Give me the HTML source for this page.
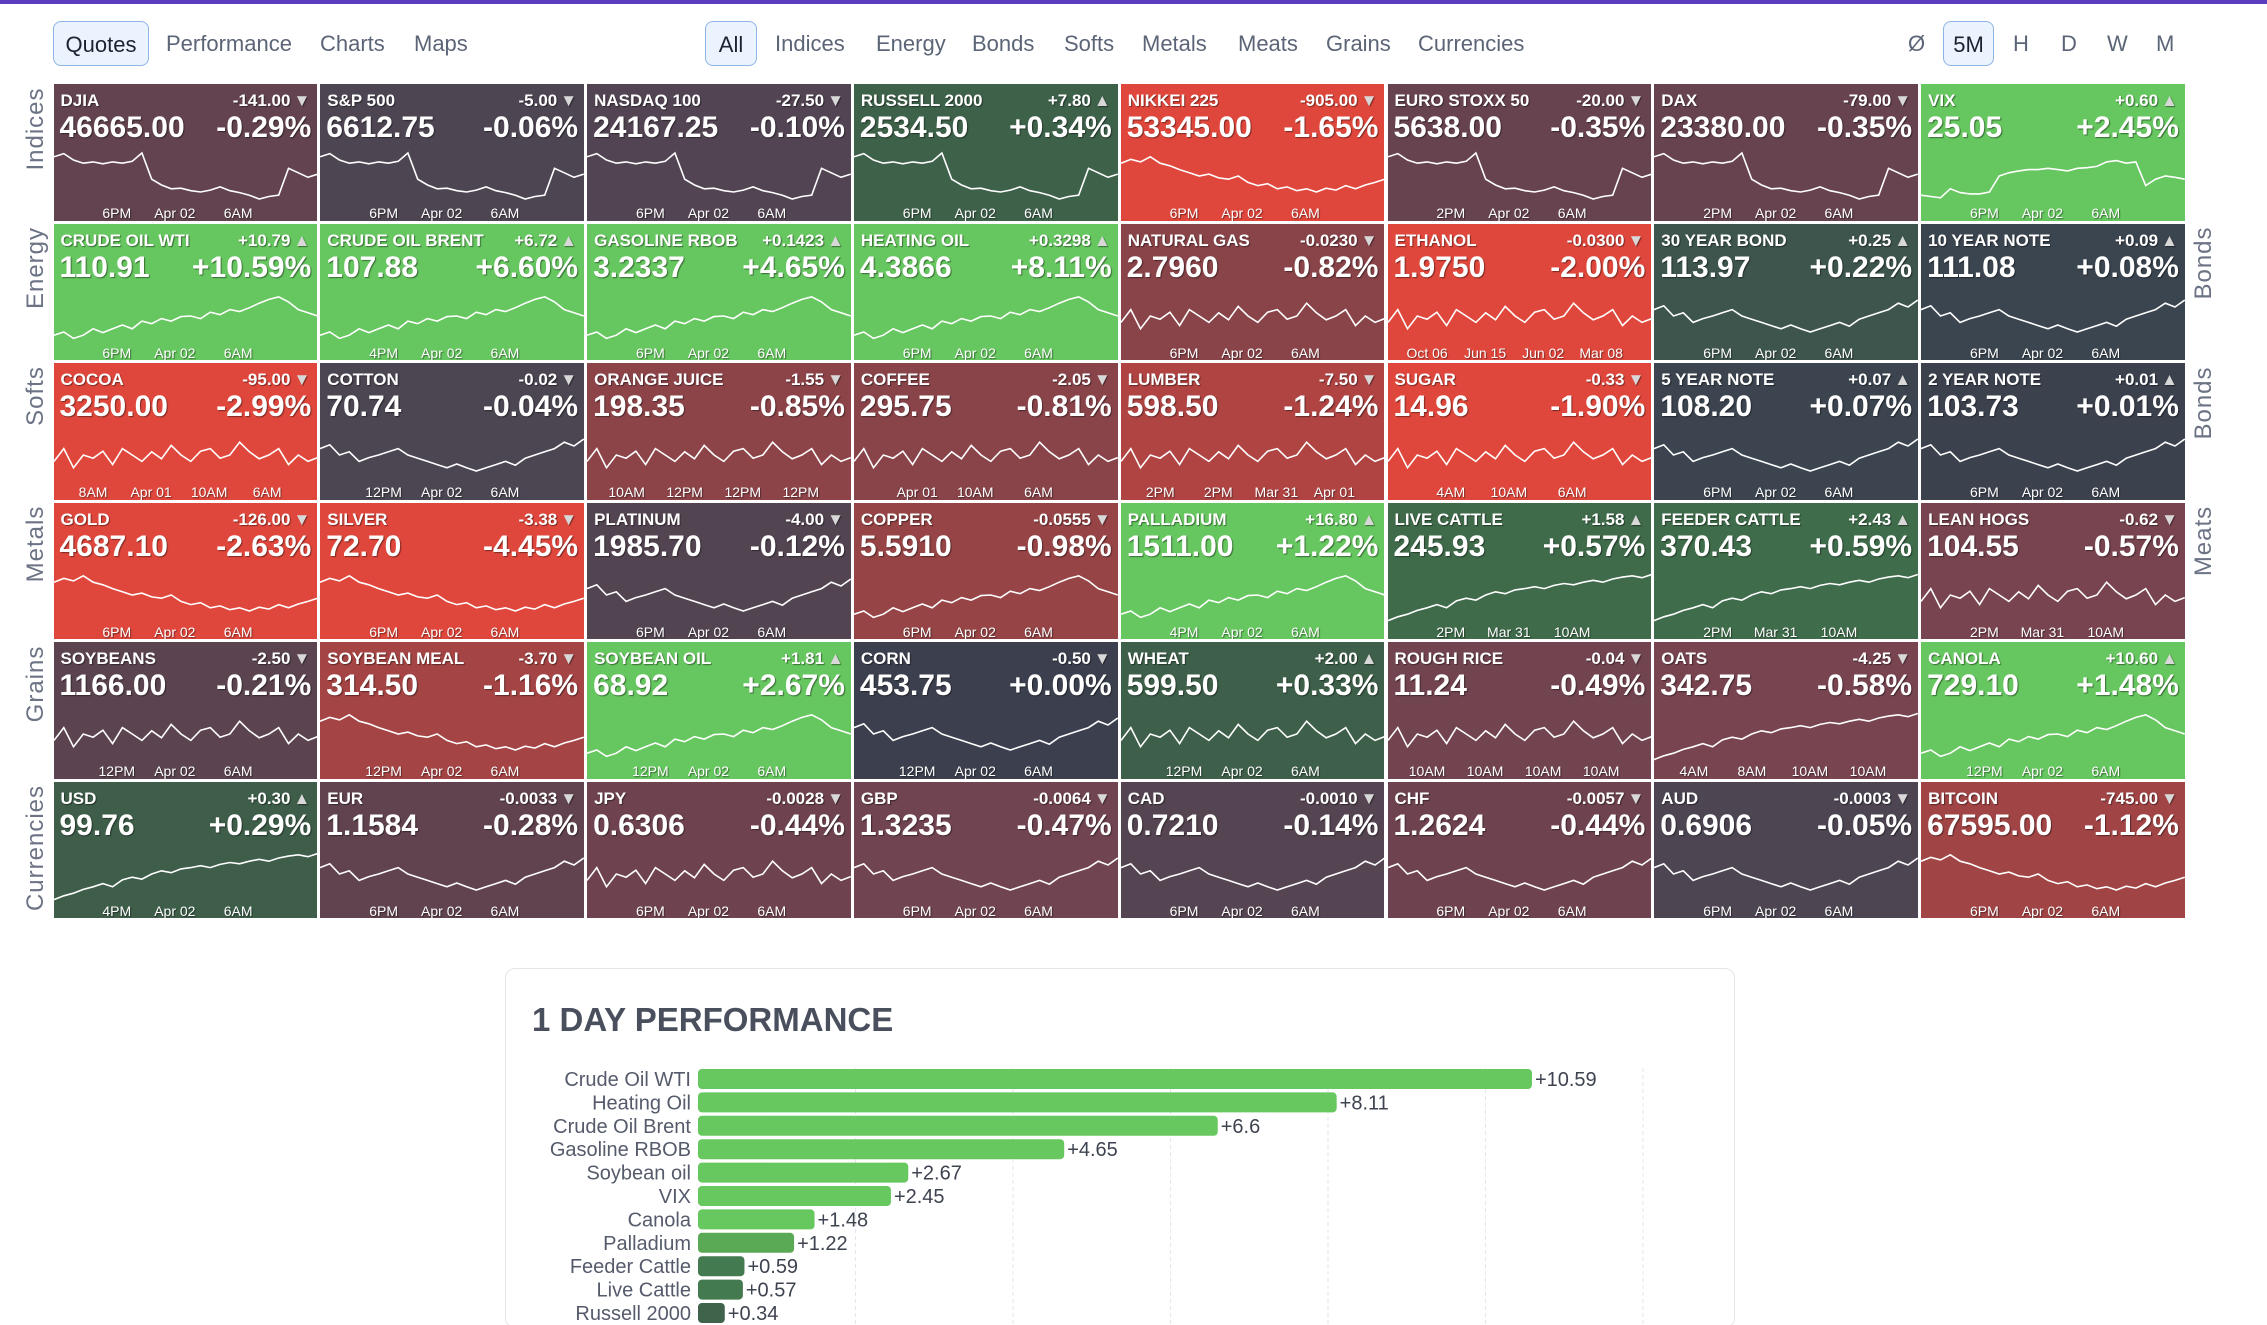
<!DOCTYPE html>
<html><head><meta charset="utf-8"><style>
*{box-sizing:border-box;margin:0;padding:0}
html{width:2267px;height:1325px;overflow:hidden}
body{width:2267px;height:1325px;background:#fff;position:relative;overflow:hidden;font-family:"Liberation Sans Narrow","Liberation Sans",sans-serif}
.topbar{position:absolute;left:0;top:0;width:2267px;height:4px;background:#5b3cbf}
.nav{position:absolute;top:21px;height:45px;line-height:45px;font-size:22px;color:#5c6577;font-family:"Liberation Sans",sans-serif}
.btn{background:#ebf3ff;border:1.5px solid #8fb4e8;border-radius:8px;color:#1d2230;text-align:center}
.tile{position:absolute;overflow:hidden;color:#fff;text-shadow:1px 1px 1px rgba(0,0,0,.45)}
.tile .nm{position:absolute;left:7px;top:7px;font-size:17px;font-weight:bold;font-family:"Liberation Sans",sans-serif}
.tile .ch{position:absolute;right:7px;top:7px;font-size:17px;font-weight:bold;font-family:"Liberation Sans",sans-serif}
.tile .ch span{color:#d8d8d8;font-size:17px;margin-left:3px}
.tile .px{position:absolute;left:6px;top:27px;font-size:30px;font-weight:bold;font-family:"Liberation Sans",sans-serif}
.tile .pc{position:absolute;right:6px;top:27px;font-size:30px;font-weight:bold;font-family:"Liberation Sans",sans-serif}
.tile svg{position:absolute;left:0;top:0}
.tl{position:absolute;top:121px;font-size:14px;transform:translateX(-50%);white-space:nowrap;font-family:"Liberation Sans",sans-serif}
.rowlab{position:absolute;font-size:24px;letter-spacing:1px;color:#6b7385;font-family:"Liberation Sans",sans-serif;white-space:nowrap}
.panel{position:absolute;left:505px;top:968px;width:1230px;height:360px;border:1.5px solid #e3e5ea;border-radius:10px}
</style></head><body>
<div class="topbar"></div>

<div class="nav btn" style="left:53px;width:96px">Quotes</div>
<div class="nav" style="left:166px">Performance</div>
<div class="nav" style="left:320px">Charts</div>
<div class="nav" style="left:414px">Maps</div>

<div class="nav btn" style="left:705px;width:52px">All</div>
<div class="nav" style="left:775px">Indices</div>
<div class="nav" style="left:876px">Energy</div>
<div class="nav" style="left:972px">Bonds</div>
<div class="nav" style="left:1064px">Softs</div>
<div class="nav" style="left:1142px">Metals</div>
<div class="nav" style="left:1238px">Meats</div>
<div class="nav" style="left:1326px">Grains</div>
<div class="nav" style="left:1418px">Currencies</div>

<div class="nav" style="left:1908px">Ø</div>
<div class="nav btn" style="left:1943px;width:51px">5M</div>
<div class="nav" style="left:2013px">H</div>
<div class="nav" style="left:2061px">D</div>
<div class="nav" style="left:2107px">W</div>
<div class="nav" style="left:2156px">M</div>

<div id="grid"></div>

<div class="panel">
<div style="position:absolute;left:26px;top:32px;font-size:33px;font-weight:bold;color:#4a4f5e;font-family:'Liberation Sans',sans-serif">1 DAY PERFORMANCE</div>
</div>
<svg id="bars" width="2267" height="1325" style="position:absolute;left:0;top:0"></svg>

<script>
// ---- bar chart data ----
const barLabels=["Crude Oil WTI","Heating Oil","Crude Oil Brent","Gasoline RBOB","Soybean oil","VIX","Canola","Palladium","Feeder Cattle","Live Cattle","Russell 2000"];
const barValues=[10.59,8.11,6.6,4.65,2.67,2.45,1.48,1.22,0.59,0.57,0.34];
const barTicks=[0,2,4,6,8,10,12];

// ---- quote tiles data ----
const names=["DJIA","S&P 500","NASDAQ 100","RUSSELL 2000","NIKKEI 225","EURO STOXX 50","DAX","VIX",
"CRUDE OIL WTI","CRUDE OIL BRENT","GASOLINE RBOB","HEATING OIL","NATURAL GAS","ETHANOL","30 YEAR BOND","10 YEAR NOTE",
"COCOA","COTTON","ORANGE JUICE","COFFEE","LUMBER","SUGAR","5 YEAR NOTE","2 YEAR NOTE",
"GOLD","SILVER","PLATINUM","COPPER","PALLADIUM","LIVE CATTLE","FEEDER CATTLE","LEAN HOGS",
"SOYBEANS","SOYBEAN MEAL","SOYBEAN OIL","CORN","WHEAT","ROUGH RICE","OATS","CANOLA",
"USD","EUR","JPY","GBP","CAD","CHF","AUD","BITCOIN"];
const changes=["-141.00","-5.00","-27.50","+7.80","-905.00","-20.00","-79.00","+0.60",
"+10.79","+6.72","+0.1423","+0.3298","-0.0230","-0.0300","+0.25","+0.09",
"-95.00","-0.02","-1.55","-2.05","-7.50","-0.33","+0.07","+0.01",
"-126.00","-3.38","-4.00","-0.0555","+16.80","+1.58","+2.43","-0.62",
"-2.50","-3.70","+1.81","-0.50","+2.00","-0.04","-4.25","+10.60",
"+0.30","-0.0033","-0.0028","-0.0064","-0.0010","-0.0057","-0.0003","-745.00"];
const prices=["46665.00","6612.75","24167.25","2534.50","53345.00","5638.00","23380.00","25.05",
"110.91","107.88","3.2337","4.3866","2.7960","1.9750","113.97","111.08",
"3250.00","70.74","198.35","295.75","598.50","14.96","108.20","103.73",
"4687.10","72.70","1985.70","5.5910","1511.00","245.93","370.43","104.55",
"1166.00","314.50","68.92","453.75","599.50","11.24","342.75","729.10",
"99.76","1.1584","0.6306","1.3235","0.7210","1.2624","0.6906","67595.00"];
const pcts=[-0.29,-0.06,-0.10,0.34,-1.65,-0.35,-0.35,2.45,
10.59,6.60,4.65,8.11,-0.82,-2.00,0.22,0.08,
-2.99,-0.04,-0.85,-0.81,-1.24,-1.90,0.07,0.01,
-2.63,-4.45,-0.12,-0.98,1.22,0.57,0.59,-0.57,
-0.21,-1.16,2.67,0.00,0.33,-0.49,-0.58,1.48,
0.29,-0.28,-0.44,-0.47,-0.14,-0.44,-0.05,-1.12];
const L1=["6PM","Apr 02","6AM"];
const timeLabels=[L1,L1,L1,L1,L1,["2PM","Apr 02","6AM"],["2PM","Apr 02","6AM"],L1,
L1,["4PM","Apr 02","6AM"],L1,L1,L1,["Oct 06","Jun 15","Jun 02","Mar 08"],L1,L1,
["8AM","Apr 01","10AM","6AM"],["12PM","Apr 02","6AM"],["10AM","12PM","12PM","12PM"],["Apr 01","10AM","6AM"],["2PM","2PM","Mar 31","Apr 01"],["4AM","10AM","6AM"],L1,L1,
L1,L1,L1,L1,["4PM","Apr 02","6AM"],["2PM","Mar 31","10AM"],["2PM","Mar 31","10AM"],["2PM","Mar 31","10AM"],
["12PM","Apr 02","6AM"],["12PM","Apr 02","6AM"],["12PM","Apr 02","6AM"],["12PM","Apr 02","6AM"],["12PM","Apr 02","6AM"],["10AM","10AM","10AM","10AM"],["4AM","8AM","10AM","10AM"],["12PM","Apr 02","6AM"],
["4PM","Apr 02","6AM"],L1,L1,L1,L1,L1,L1,L1];
const shapeUS=[0.8,0.85,0.75,0.7,0.72,0.69,0.72,0.7,0.73,0.86,0.45,0.36,0.3,0.31,0.27,0.25,0.28,0.33,0.27,0.24,0.2,0.14,0.18,0.2,0.62,0.55,0.48,0.53];
const shapeUp=[0.2,0.25,0.15,0.2,0.3,0.24,0.3,0.36,0.3,0.42,0.38,0.46,0.42,0.49,0.5,0.46,0.56,0.52,0.6,0.57,0.63,0.7,0.76,0.8,0.72,0.6,0.55,0.5];
const shapeDown=[0.7,0.76,0.72,0.8,0.7,0.66,0.6,0.55,0.5,0.53,0.47,0.45,0.5,0.4,0.35,0.38,0.3,0.33,0.27,0.3,0.25,0.31,0.28,0.35,0.3,0.36,0.4,0.45];
const shapeNoisy=[0.4,0.6,0.3,0.5,0.45,0.56,0.35,0.6,0.5,0.4,0.55,0.44,0.65,0.5,0.4,0.56,0.6,0.45,0.5,0.7,0.55,0.44,0.5,0.6,0.35,0.5,0.4,0.46];
const shapeRise=[0.1,0.16,0.2,0.26,0.3,0.35,0.3,0.41,0.45,0.42,0.5,0.55,0.52,0.58,0.6,0.63,0.6,0.65,0.68,0.66,0.7,0.73,0.7,0.75,0.78,0.8,0.77,0.82];
const shapeDip=[0.6,0.66,0.5,0.55,0.4,0.46,0.5,0.55,0.6,0.5,0.45,0.4,0.35,0.3,0.36,0.3,0.25,0.3,0.35,0.4,0.34,0.45,0.5,0.55,0.6,0.7,0.64,0.75];
const shapeVix=[0.2,0.18,0.16,0.3,0.24,0.22,0.22,0.25,0.5,0.55,0.58,0.6,0.6,0.62,0.6,0.58,0.62,0.63,0.65,0.72,0.74,0.7,0.72,0.35,0.45,0.5,0.48,0.45];
const shapes=[shapeUS,shapeUS,shapeUS,shapeUS,shapeDown,shapeUS,shapeUS,shapeVix,
shapeUp,shapeUp,shapeUp,shapeUp,shapeNoisy,shapeNoisy,shapeDip,shapeDip,
shapeNoisy,shapeDip,shapeNoisy,shapeNoisy,shapeNoisy,shapeNoisy,shapeDip,shapeDip,
shapeDown,shapeDown,shapeDip,shapeUp,shapeUp,shapeRise,shapeRise,shapeNoisy,
shapeNoisy,shapeDown,shapeUp,shapeDip,shapeNoisy,shapeNoisy,shapeRise,shapeUp,
shapeRise,shapeDip,shapeNoisy,shapeDip,shapeDip,shapeDip,shapeDip,shapeDown];
const rowNames=["Indices","Energy","Softs","Metals","Grains","Currencies"];
const rightNames=["","Bonds","Bonds","Meats","",""];

function mix(a,b,t){const pa=parseInt(a.slice(1),16),pb=parseInt(b.slice(1),16);
 const c=[16,8,0].map(s=>Math.round(((pa>>s)&255)*(1-t)+((pb>>s)&255)*t));
 return "rgb("+c.join(",")+")";}
function tileColor(p){
 const neg=[[0,"#494553"],[0.3,"#63434f"],[0.6,"#7a4450"],[0.9,"#8f4447"],[1.2,"#a84444"],[1.5,"#e0473c"]];
 const pos=[[0,"#3c404e"],[0.1,"#3b4650"],[0.3,"#3e5f4a"],[0.6,"#3f6c4a"],[1.0,"#66c65f"]];
 const st=p<0?neg:pos;const a=Math.abs(p);
 if(a>=st[st.length-1][0])return st[st.length-1][1];
 for(let i=1;i<st.length;i++){if(a<=st[i][0]){const t=(a-st[i-1][0])/(st[i][0]-st[i-1][0]);return mix(st[i-1][1],st[i][1],t);}}
}
const grid=document.getElementById('grid');
const gx=53.5,gy=84,cw=266.8,rh=139.5,gap=3;
const tw=cw-gap,th=rh-gap;
names.forEach((n,i)=>{
 const c=i%8,r=Math.floor(i/8);
 const d=document.createElement('div');d.className='tile';
 
 
 d.style.left=(gx+c*cw)+'px';d.style.top=(gy+r*rh)+'px';d.style.width=tw+'px';d.style.height=th+'px';
 d.style.background=tileColor(pcts[i]);
 const s=shapes[i];const y0=60,y1=124;
 const pts=s.map((v,k)=>((k/(s.length-1))*tw).toFixed(1)+","+(y1-v*(y1-y0)).toFixed(1)).join(" ");
 const tri=changes[i][0]==='-'?'▼':'▲';
 const pcStr=(pcts[i]>=0?'+':'')+pcts[i].toFixed(2)+'%';
 let labs='';const tl=timeLabels[i];
 tl.forEach((t,k)=>{const f=tl.length===3?[0.24,0.46,0.7][k]:[0.15,0.37,0.59,0.81][k];labs+='<div class="tl" style="left:'+(f*tw)+'px">'+t+'</div>';});
 d.innerHTML='<svg width="'+tw+'" height="'+th+'"><polyline points="'+pts+'" fill="none" stroke="#fff" stroke-width="1.6"/></svg>'+
 '<div class="nm">'+n.replace('&','&amp;')+'</div><div class="ch">'+changes[i]+'<span>'+tri+'</span></div>'+
 '<div class="px">'+prices[i]+'</div><div class="pc">'+pcStr+'</div>'+labs;
 grid.appendChild(d);
});
function placeLabel(e,x,rowTop){
 document.body.appendChild(e);
 const w=e.offsetWidth;
 e.style.left=x+'px';e.style.top=(rowTop+3+w/2)+'px';
 e.style.transform='translate(-50%,-50%) rotate(-90deg)';
}
rowNames.forEach((n,r)=>{
 const e=document.createElement('div');e.className='rowlab';e.textContent=n;
 
 
 placeLabel(e,36,gy+r*rh);
 if(rightNames[r]){const f=document.createElement('div');f.className='rowlab';f.textContent=rightNames[r];
 
 
 placeLabel(f,2204,gy+r*rh);}
});
// bar chart
const svg=document.getElementById('bars');const NS="http://www.w3.org/2000/svg";
const x0=698,unit=78.75,yTop=1079,step=23.4,bh=20;
const xs=v=>x0+v*unit, ys=i=>yTop+i*step;
barTicks.forEach(t=>{if(t===0)return;const l=document.createElementNS(NS,'line');
 
 
 l.setAttribute('x1',xs(t));l.setAttribute('x2',xs(t));l.setAttribute('y1',1068);l.setAttribute('y2',1325);
 l.setAttribute('stroke','#e4e6ea');l.setAttribute('stroke-dasharray','4,3');svg.appendChild(l);});
function barColor(v){return v>=1.4?"#66c85f":v>=1?"#5aa955":v>=0.5?"#447a4f":"#3f634b";}
barLabels.forEach((lb,i)=>{
 const r=document.createElementNS(NS,'rect');
 
 
 r.setAttribute('x',x0);r.setAttribute('y',ys(i)-bh/2);r.setAttribute('width',xs(barValues[i])-x0);r.setAttribute('height',bh);
 r.setAttribute('rx',4);r.setAttribute('fill',barColor(barValues[i]));svg.appendChild(r);
 const t=document.createElementNS(NS,'text');
 
 
 t.setAttribute('x',x0-7);t.setAttribute('y',ys(i)+7);t.setAttribute('text-anchor','end');
 t.setAttribute('font-size','20');t.setAttribute('fill','#555b6b');t.setAttribute('font-family','Liberation Sans Narrow, Liberation Sans, sans-serif');
 t.textContent=lb;svg.appendChild(t);
 const v=document.createElementNS(NS,'text');
 
 
 v.setAttribute('x',xs(barValues[i])+3);v.setAttribute('y',ys(i)+7);
 v.setAttribute('font-size','20');v.setAttribute('fill','#3e4350');v.setAttribute('font-family','Liberation Sans Narrow, Liberation Sans, sans-serif');
 v.textContent='+'+barValues[i];svg.appendChild(v);
});
</script>
</body></html>
